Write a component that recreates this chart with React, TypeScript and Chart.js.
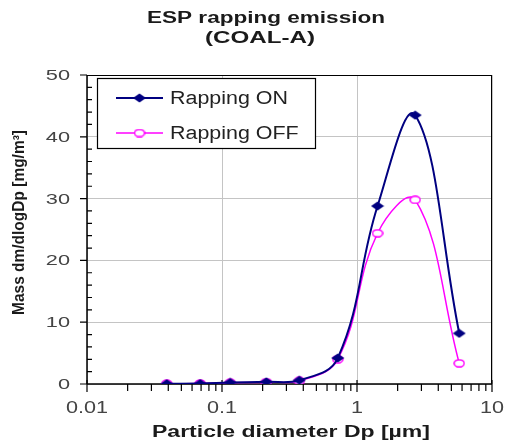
import React, { useEffect, useRef } from "react";
import { Chart, registerables } from "chart.js";

Chart.register(...registerables);

// ---- data ----
const diameters = [0.039, 0.069, 0.115, 0.213, 0.374, 0.72, 1.42, 2.7, 5.72];
const rappingOn = [0.05, 0.08, 0.25, 0.35, 0.6, 4.2, 28.8, 43.5, 8.2];
const rappingOff = [0.05, 0.08, 0.2, 0.3, 0.5, 4.0, 24.4, 29.8, 3.35];
const xTickValues = [0.01, 0.1, 1, 10];
const xTickLabels = ["0.01", "0.1", "1", "10"];
const yTickValues = [0, 10, 20, 30, 40, 50];
const yTickLabels = ["0", "10", "20", "30", "40", "50"];
const seriesNames = ["Rapping ON", "Rapping OFF"];
const titleLines = ["ESP rapping emission", "(COAL-A)"];
const xTitle = "Particle diameter Dp [µm]";
const yTitle = "Mass dm/dlogDp [mg/m³]";

const FONT = '"Liberation Sans", Arial, sans-serif';
const NAVY = "#000080";
const MAGENTA = "#ff00ff";

function makeDiamond(): HTMLCanvasElement {
  const c = document.createElement("canvas");
  c.width = 14;
  c.height = 10;
  const g = c.getContext("2d")!;
  g.fillStyle = NAVY;
  g.beginPath();
  g.moveTo(0.5, 5);
  g.lineTo(7, 0.5);
  g.lineTo(13.5, 5);
  g.lineTo(7, 9.5);
  g.closePath();
  g.fill();
  return c;
}

function makeOpenCircle(): HTMLCanvasElement {
  const c = document.createElement("canvas");
  c.width = 12;
  c.height = 9;
  const g = c.getContext("2d")!;
  g.fillStyle = "#ffffff";
  g.strokeStyle = MAGENTA;
  g.lineWidth = 1.5;
  g.beginPath();
  g.ellipse(6, 4.5, 5, 3.6, 0, 0, Math.PI * 2);
  g.fill();
  g.stroke();
  return c;
}

function drawFit(
  ctx: CanvasRenderingContext2D,
  text: string,
  x: number,
  y: number,
  font: string,
  sx: number,
  align: CanvasTextAlign,
  color: string
) {
  ctx.save();
  ctx.font = font;
  ctx.fillStyle = color;
  ctx.textBaseline = "alphabetic";
  ctx.textAlign = align;
  ctx.translate(x, y);
  ctx.scale(sx, 1);
  ctx.fillText(text, 0, 0);
  ctx.restore();
}

function fitScale(ctx: CanvasRenderingContext2D, text: string, font: string, target: number) {
  ctx.save();
  ctx.font = font;
  const w = ctx.measureText(text).width;
  ctx.restore();
  return w > 0 ? target / w : 1;
}

export default function App() {
  const ref = useRef<HTMLCanvasElement>(null);

  useEffect(() => {
    if (!ref.current) return;
    const diamond = makeDiamond();
    const circle = makeOpenCircle();

    const decor = {
      id: "decor",
      beforeDatasetsDraw(chart: any) {
        const ctx: CanvasRenderingContext2D = chart.ctx;
        const { left, right, top, bottom } = chart.chartArea;
        const xs = chart.scales.x;
        const ys = chart.scales.y;
        ctx.save();
        ctx.strokeStyle = "#000";
        ctx.lineWidth = 1;
        ctx.beginPath();
        ctx.moveTo(left, top + 0.5);
        ctx.lineTo(right, top + 0.5);
        ctx.moveTo(right - 0.5, top);
        ctx.lineTo(right - 0.5, bottom);
        ctx.stroke();
        ctx.lineWidth = 1.5;
        ctx.beginPath();
        ctx.moveTo(left, top);
        ctx.lineTo(left, bottom);
        ctx.moveTo(left, bottom);
        ctx.lineTo(right, bottom);
        ctx.stroke();
        ctx.lineWidth = 1.2;
        ctx.beginPath();
        for (const v of yTickValues) {
          const y = ys.getPixelForValue(v);
          ctx.moveTo(left - 7, y);
          ctx.lineTo(left, y);
        }
        for (let v = 0; v <= 50; v += 2) {
          if (v % 10 === 0) continue;
          const y = ys.getPixelForValue(v);
          ctx.moveTo(left, y);
          ctx.lineTo(left + 5, y);
        }
        for (const v of xTickValues) {
          const x = xs.getPixelForValue(v);
          ctx.moveTo(x, bottom - 4);
          ctx.lineTo(x, bottom + 8);
        }
        for (const d of [0.01, 0.1, 1]) {
          for (let k = 2; k <= 9; k++) {
            const x = xs.getPixelForValue(k * d);
            ctx.moveTo(x, bottom);
            ctx.lineTo(x, bottom + 7);
          }
        }
        ctx.stroke();
        ctx.restore();
      },
      afterDraw(chart: any) {
        const ctx: CanvasRenderingContext2D = chart.ctx;
        const xs = chart.scales.x;
        const ys = chart.scales.y;
        const bold16 = `bold 16px ${FONT}`;
        drawFit(ctx, titleLines[0], 258, 15.3, bold16, fitScale(ctx, titleLines[0], bold16, 238), "center", "#1a1a1a");
        drawFit(ctx, titleLines[1], 252, 35, bold16, fitScale(ctx, titleLines[1], bold16, 110), "center", "#1a1a1a");
        const tickFontX = `16px ${FONT}`;
        xTickValues.forEach((v, i) => {
          drawFit(ctx, xTickLabels[i], xs.getPixelForValue(v), 405.3, tickFontX, 1.35, "center", "#444");
        });
        const tickFontY = `15px ${FONT}`;
        yTickValues.forEach((v, i) => {
          drawFit(ctx, yTickLabels[i], 62, ys.getPixelForValue(v) + 5, tickFontY, 1.45, "right", "#444");
        });
        drawFit(ctx, xTitle, 283, 428.5, bold16, fitScale(ctx, xTitle, bold16, 278), "center", "#1a1a1a");
        const boldY = `bold 16.5px ${FONT}`;
        const ysx = fitScale(ctx, yTitle, boldY, 185);
        ctx.save();
        ctx.translate(15.8, 214.5);
        ctx.rotate(-Math.PI / 2);
        ctx.font = boldY;
        ctx.fillStyle = "#1a1a1a";
        ctx.textAlign = "center";
        ctx.textBaseline = "alphabetic";
        ctx.scale(ysx, 1);
        ctx.fillText(yTitle, 0, 0);
        ctx.restore();
        ctx.save();
        ctx.fillStyle = "#fff";
        ctx.strokeStyle = "#000";
        ctx.lineWidth = 1.2;
        ctx.fillRect(89, 70, 218, 70);
        ctx.strokeRect(89.5, 70.5, 218, 70);
        const rows = [
          { y: 90, color: NAVY, lw: 2, img: diamond },
          { y: 125, color: MAGENTA, lw: 1.5, img: circle },
        ];
        rows.forEach((r, i) => {
          ctx.strokeStyle = r.color;
          ctx.lineWidth = r.lw;
          ctx.beginPath();
          ctx.moveTo(108, r.y);
          ctx.lineTo(155, r.y);
          ctx.stroke();
          ctx.drawImage(r.img, 131.5 - r.img.width / 2, r.y - r.img.height / 2);
          drawFit(ctx, seriesNames[i], 162, r.y + 6, `18px ${FONT}`, 1.19, "left", "#222");
        });
        ctx.restore();
      },
    };

    const chart = new Chart(ref.current, {
      type: "scatter",
      data: {
        datasets: [
          {
            label: seriesNames[0],
            data: diameters.map((d, i) => ({ x: d, y: rappingOn[i] })),
            showLine: true,
            borderColor: NAVY,
            borderWidth: 2,
            tension: 0.4,
            pointStyle: diamond as any,
            pointRadius: 5,
          },
          {
            label: seriesNames[1],
            data: diameters.map((d, i) => ({ x: d, y: rappingOff[i] })),
            showLine: true,
            borderColor: MAGENTA,
            borderWidth: 1.5,
            tension: 0.4,
            pointStyle: circle as any,
            pointRadius: 4,
          },
        ],
      },
      options: {
        animation: false,
        responsive: false,
        maintainAspectRatio: false,
        layout: { padding: { top: 67, right: 13, left: 0, bottom: 0 } },
        plugins: {
          legend: { display: false },
          title: { display: false },
          tooltip: { enabled: false },
        },
        scales: {
          x: {
            type: "logarithmic",
            min: 0.01,
            max: 10,
            afterBuildTicks: (s: any) => {
              s.ticks = xTickValues.map((v) => ({ value: v }));
            },
            afterFit: (s: any) => {
              s.height = 57;
            },
            ticks: { display: false },
            grid: { color: "#c4c4c4", lineWidth: 1, drawTicks: false },
            border: { display: false },
          },
          y: {
            type: "linear",
            min: 0,
            max: 50,
            afterBuildTicks: (s: any) => {
              s.ticks = yTickValues.map((v) => ({ value: v }));
            },
            afterFit: (s: any) => {
              s.width = 79;
            },
            ticks: { display: false },
            grid: { color: "#c4c4c4", lineWidth: 1, drawTicks: false },
            border: { display: false },
          },
        },
      },
      plugins: [decor],
    });
    return () => chart.destroy();
  }, []);

  return (
    <canvas
      ref={ref}
      width={497}
      height={433}
      style={{ display: "block", position: "fixed", left: 8, top: 8 }}
    />
  );
}
